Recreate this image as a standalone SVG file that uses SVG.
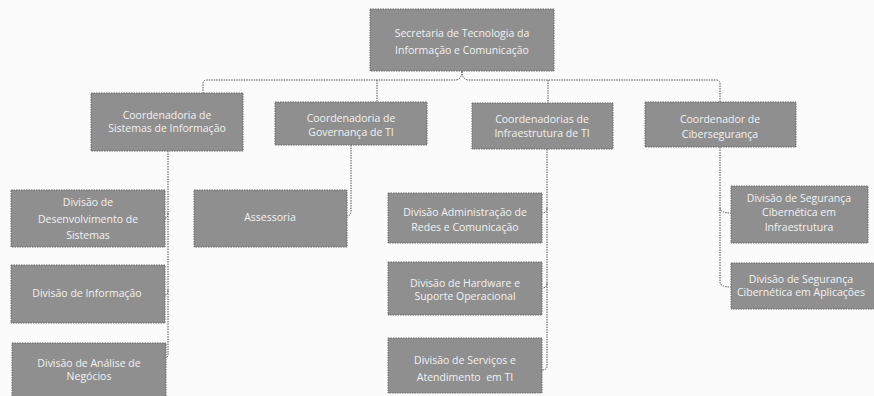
<svg xmlns="http://www.w3.org/2000/svg" width="874" height="396" viewBox="0 0 874 396">
<style>
.box{fill:#8f8f8f;stroke:#6a6a6a;stroke-width:1;stroke-dasharray:1.5 1}
.t{font-family:"Open Sans","DejaVu Sans",sans-serif;font-size:10.5px;fill:#f2f2f2;text-anchor:middle}
.c{fill:none;stroke:#555;stroke-width:1;stroke-dasharray:1.5 1}
</style>
<rect width="874" height="396" fill="#fbfbfb"/>
<g id="connectors">
<path class="c" d="M462,71 Q462,79 456,80 L207,80 Q203,80 203,84 L203,93"/>
<path class="c" d="M462,71 Q462,79 468,80 L716,80 Q720,80 720,84 L720,102"/>
<path class="c" d="M377,80 L377,102"/>
<path class="c" d="M548,80 L548,103"/>
<path class="c" d="M168,151 L168,354 Q168,358 164,358"/>
<path class="c" d="M168,213 Q168,218 165,218"/>
<path class="c" d="M168,290 Q168,295 165,295"/>
<path class="c" d="M351,145 L351,211 Q351,216 347,216"/>
<path class="c" d="M547,149 L547,366 Q547,370 542,370"/>
<path class="c" d="M547,208 Q547,213 542,213"/>
<path class="c" d="M547,283 Q547,288 542,288"/>
<path class="c" d="M720,147 L720,282 Q720,287 731,287"/>
<path class="c" d="M720,208 Q720,213 731,213"/>
</g>
<g id="secretaria"><rect class="box" x="370" y="9" width="184" height="62"/><text class="t" x="462" y="37">Secretaria de Tecnologia da</text><text class="t" x="462" y="54">Informação e Comunicação</text></g>
<g id="coord-sistemas"><rect class="box" x="91" y="93" width="152" height="58"/><text class="t" x="167" y="119">Coordenadoria de</text><text class="t" x="167" y="132">Sistemas de Informação</text></g>
<g id="coord-governanca"><rect class="box" x="275" y="102" width="152" height="43"/><text class="t" x="351" y="122">Coordenadoria de</text><text class="t" x="351" y="136">Governança de TI</text></g>
<g id="coord-infra"><rect class="box" x="472" y="103" width="141" height="46"/><text class="t" x="542" y="123">Coordenadorias de</text><text class="t" x="542" y="137">Infraestrutura de TI</text></g>
<g id="coord-ciber"><rect class="box" x="645" y="102" width="151" height="45"/><text class="t" x="720" y="123">Coordenador de</text><text class="t" x="720" y="138">Cibersegurança</text></g>
<g id="div-desenv"><rect class="box" x="11" y="190" width="154" height="57"/><text class="t" x="88" y="206">Divisão de</text><text class="t" x="88" y="223">Desenvolvimento de</text><text class="t" x="88" y="239">Sistemas</text></g>
<g id="div-informacao"><rect class="box" x="11" y="265" width="154" height="58"/><text class="t" x="87" y="297">Divisão de Informação</text></g>
<g id="div-analise"><rect class="box" x="12" y="343" width="154" height="60"/><text class="t" x="89" y="367">Divisão de Análise de</text><text class="t" x="89" y="380">Negócios</text></g>
<g id="assessoria"><rect class="box" x="194" y="190" width="153" height="57"/><text class="t" x="270" y="221">Assessoria</text></g>
<g id="div-redes"><rect class="box" x="388" y="193" width="154" height="50"/><text class="t" x="465" y="216">Divisão Administração de</text><text class="t" x="465" y="231">Redes e Comunicação</text></g>
<g id="div-hardware"><rect class="box" x="388" y="262" width="154" height="53"/><text class="t" x="465" y="287">Divisão de Hardware e</text><text class="t" x="465" y="300">Suporte Operacional</text></g>
<g id="div-servicos"><rect class="box" x="388" y="338" width="154" height="55"/><text class="t" x="465" y="364">Divisão de Serviços e</text><text class="t" x="465" y="381" xml:space="preserve">Atendimento  em TI</text></g>
<g id="div-seg-infra"><rect class="box" x="731" y="186" width="137" height="57"/><text class="t" x="799" y="202">Divisão de Segurança</text><text class="t" x="799" y="216">Cibernética em</text><text class="t" x="799" y="231">Infraestrutura</text></g>
<g id="div-seg-apl"><rect class="box" x="731" y="263" width="145" height="46"/><text class="t" x="801" y="283">Divisão de Segurança</text><text class="t" x="801" y="296">Cibernética em Aplicações</text></g>
</svg>
